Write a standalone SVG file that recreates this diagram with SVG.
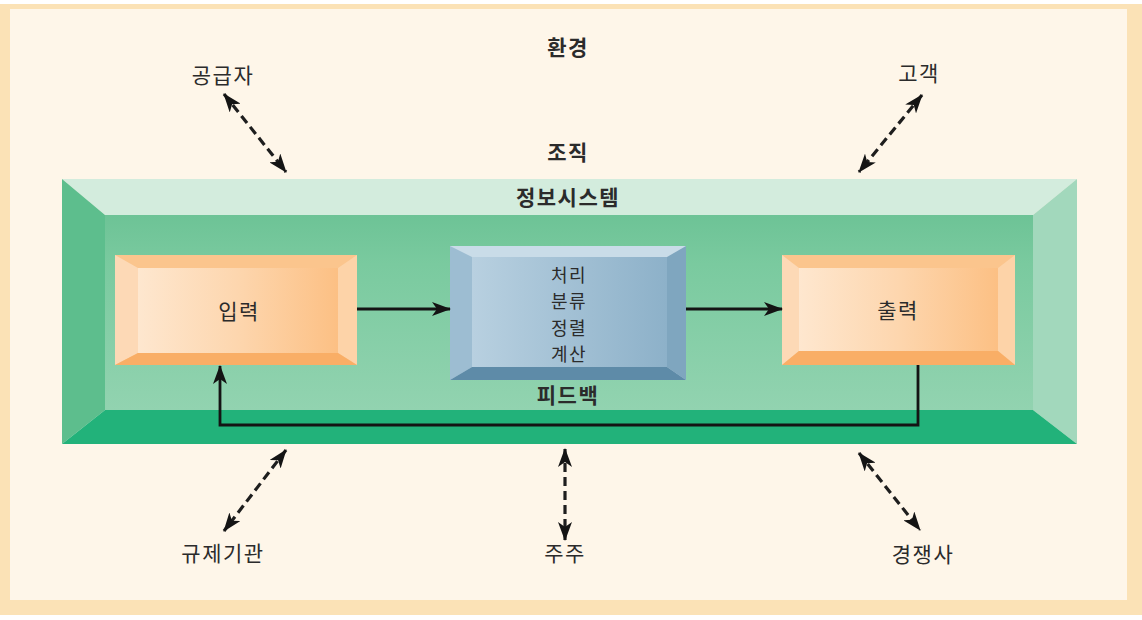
<svg xmlns="http://www.w3.org/2000/svg" width="1142" height="620" viewBox="0 0 1142 620">
<defs>
<style>
.lbl{font-family:"Noto Sans CJK KR","Noto Sans",sans-serif;font-size:21px;letter-spacing:1.5px;fill:#2b2b2b;text-anchor:middle}
.b{font-weight:bold}
.proc{font-size:18px;letter-spacing:1.5px}
.solid{stroke:#141414;stroke-width:2.8;fill:none}
.dash{stroke:#1e1e1e;stroke-width:3.2;fill:none;stroke-dasharray:9 5}
</style>
<marker id="ah" viewBox="0 0 19 14" refX="18" refY="7" markerWidth="19" markerHeight="14" markerUnits="userSpaceOnUse" orient="auto-start-reverse">
<path d="M0,0 L19,7 L0,14 L5,7 z" fill="#141414"/>
</marker>
<linearGradient id="gface" x1="0" y1="0" x2="0" y2="1">
<stop offset="0" stop-color="#6DC396"/>
<stop offset="0.25" stop-color="#7ACA9F"/>
<stop offset="1" stop-color="#92D3B0"/>
</linearGradient>
<linearGradient id="oface" x1="0" y1="0" x2="1" y2="0">
<stop offset="0" stop-color="#FEE7CF"/>
<stop offset="0.5" stop-color="#FDD6AE"/>
<stop offset="1" stop-color="#FCC084"/>
</linearGradient>
<linearGradient id="bface" x1="0" y1="0" x2="1" y2="0">
<stop offset="0" stop-color="#B8D0E0"/>
<stop offset="1" stop-color="#8DB1C9"/>
</linearGradient>
</defs>

<rect x="0" y="0" width="1142" height="620" fill="#FFFFFF"/>
<rect x="0" y="4" width="1142" height="611" fill="#FBE2B6"/>
<rect x="10" y="9" width="1117" height="591" fill="#FEF6E9"/>

<g id="organization">
<polygon points="62,179 1077,179 1033,215 105,215" fill="#D3ECDD"/>
<polygon points="62,179 105,215 105,410 62,444" fill="#5DBE8D"/>
<polygon points="1077,179 1077,444 1033,410 1033,215" fill="#A2D8BC"/>
<polygon points="62,444 105,410 1033,410 1077,444" fill="#22B27A"/>
<rect x="105" y="215" width="928" height="195" fill="url(#gface)"/>
<text class="lbl b" x="568" y="205">정보시스템</text>
</g>

<g id="input">
<rect x="115" y="255" width="242" height="110" fill="#FBC58D"/>
<polygon points="115,255 138,268 138,353 115,365" fill="#FDD9B6"/>
<polygon points="357,255 357,365 338,353 338,268" fill="#FDD3A8"/>
<polygon points="115,365 138,353 338,353 357,365" fill="#F9AE66"/>
<rect x="138" y="268" width="200" height="85" fill="url(#oface)"/>
<text class="lbl" x="239" y="319">입력</text>
</g>

<g id="process">
<rect x="450" y="246" width="236" height="134" fill="#C9DCE8"/>
<polygon points="450,246 472,257 472,367 450,380" fill="#9DBDD2"/>
<polygon points="686,246 686,380 667,367 667,257" fill="#7FA6BF"/>
<polygon points="450,380 472,367 667,367 686,380" fill="#5E8BA8"/>
<rect x="472" y="257" width="195" height="110" fill="url(#bface)"/>
<text class="lbl proc" x="569" y="282">처리</text>
<text class="lbl proc" x="569" y="308.3">분류</text>
<text class="lbl proc" x="569" y="334.6">정렬</text>
<text class="lbl proc" x="569" y="360.9">계산</text>
</g>

<g id="output">
<rect x="782" y="255" width="233" height="110" fill="#FBC58D"/>
<polygon points="782,255 799,268 799,351 782,365" fill="#FDD9B6"/>
<polygon points="1015,255 1015,365 998,351 998,268" fill="#FDD3A8"/>
<polygon points="782,365 799,351 998,351 1015,365" fill="#F9AE66"/>
<rect x="799" y="268" width="199" height="83" fill="url(#oface)"/>
<text class="lbl" x="898" y="318">출력</text>
</g>

<g id="labels">
<text class="lbl b" x="568" y="55">환경</text>
<text class="lbl b" x="568" y="160">조직</text>
<text class="lbl b" x="568" y="403">피드백</text>
</g>
<g id="supplier"><text class="lbl" x="223" y="83">공급자</text></g>
<g id="customer"><text class="lbl" x="919" y="81">고객</text></g>
<g id="regulator"><text class="lbl" x="223" y="561">규제기관</text></g>
<g id="shareholder"><text class="lbl" x="565" y="561">주주</text></g>
<g id="competitor"><text class="lbl" x="923" y="562">경쟁사</text></g>

<g id="connectors">
<line class="solid" x1="357" y1="309" x2="450" y2="309" marker-end="url(#ah)"/>
<line class="solid" x1="686" y1="309" x2="782" y2="309" marker-end="url(#ah)"/>
<path class="solid" d="M918,365 V425 H220 V366" marker-end="url(#ah)"/>
<line class="dash" x1="224" y1="94" x2="286" y2="172" marker-start="url(#ah)" marker-end="url(#ah)"/>
<line class="dash" x1="922" y1="95" x2="859" y2="172" marker-start="url(#ah)" marker-end="url(#ah)"/>
<line class="dash" x1="286" y1="450" x2="224" y2="531" marker-start="url(#ah)" marker-end="url(#ah)"/>
<line class="dash" x1="565" y1="449" x2="565" y2="540" marker-start="url(#ah)" marker-end="url(#ah)"/>
<line class="dash" x1="859" y1="453" x2="920" y2="530" marker-start="url(#ah)" marker-end="url(#ah)"/>
</g>
</svg>
